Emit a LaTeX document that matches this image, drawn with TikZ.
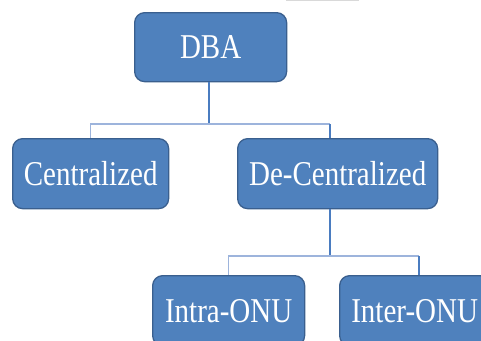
\documentclass[tikz,border=0pt]{standalone}
\usepackage{fontspec}
\setmainfont{Liberation Serif}
\definecolor{boxfill}{HTML}{4F81BD}
\definecolor{boxline}{HTML}{3A5F8E}
\definecolor{conn}{HTML}{4A7CC0}
\definecolor{connlight}{HTML}{9DB4DC}
\begin{document}
\begin{tikzpicture}[x=1pt,y=-1pt,
  blk/.style={draw=boxline,line width=1.3pt,fill=boxfill,rounded corners=10pt,
    text=white,font=\fontsize{29}{30}\selectfont,inner sep=0pt,anchor=north west},
  cn/.style={draw=conn,line width=1.1pt},
  cnl/.style={draw=connlight,line width=1.1pt}]
\useasboundingbox (0,0) rectangle (481,340);
\clip (0,0) rectangle (481,340);
\draw[gray!30,line width=1pt] (286,0.5) -- (359,0.5);
\node[blk,minimum width=152pt,minimum height=69pt] (dba) at (134,12) {\scalebox{1}[1.2]{DBA}};
\node[blk,minimum width=156pt,minimum height=70pt] (cen) at (12,138) {\scalebox{1}[1.2]{Centralized}};
\node[blk,minimum width=200pt,minimum height=70pt] (dec) at (237,138) {\scalebox{1}[1.2]{De-Centralized}};
\node[blk,minimum width=152pt,minimum height=70pt] (intra) at (152,275) {\scalebox{1}[1.2]{Intra-ONU}};
\node[blk,minimum width=150pt,minimum height=70pt] (inter) at (339,275) {\scalebox{1}[1.2]{Inter-ONU}};
\coordinate (j1) at (209,124);
\coordinate (j2) at (330,256);
\draw[cn] (dba.south -| j1) -- (j1);
\draw[cnl] (j1) -- (j1 -| cen.north) -- (cen.north);
\draw[cnl] (j1) -- (j1 -| j2);
\draw[cn] (j1 -| j2) -- (dec.north -| j2);
\draw[cn] (dec.south -| j2) -- (j2);
\draw[cnl] (j2) -- (j2 -| intra.north) -- (intra.north);
\draw[cnl] (j2) -- (419,256);
\draw[cn] (419,256) -- (inter.north -| 419,0);
\end{tikzpicture}
\end{document}
